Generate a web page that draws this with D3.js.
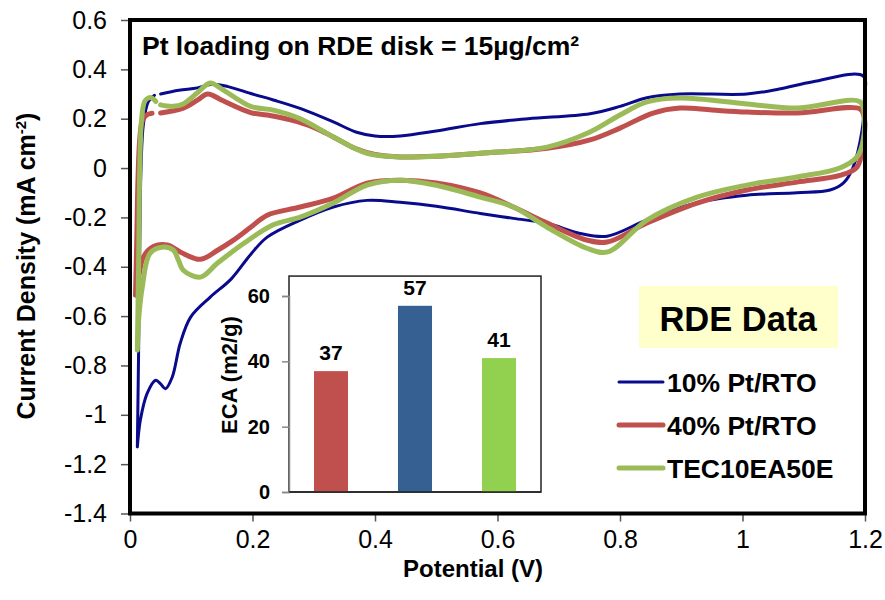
<!DOCTYPE html>
<html>
<head>
<meta charset="utf-8">
<script src="https://cdn.jsdelivr.net/npm/d3@7"></script>
<style>
  body { margin: 0; background: #fff; }
  text { font-family: "Liberation Sans", Arial, sans-serif; }
</style>
</head>
<body>
<div id="container"></div>
<script>
// CV curves, [potential V, current density mA/cm2]; null = break in the trace
var pt10 = [
  [0.012,-1.13],[0.014,-0.75],[0.016,-0.3],[0.018,0.0],[0.022,0.18],[0.030,0.27],[0.040,0.295], null,
  [0.050,0.30],[0.080,0.315],[0.110,0.325],[0.135,0.34],[0.160,0.33],[0.200,0.30],[0.234,0.276],
  [0.280,0.24],[0.332,0.187],[0.370,0.145],[0.400,0.13],[0.441,0.13],[0.500,0.15],[0.572,0.18],
  [0.650,0.20],[0.751,0.22],[0.800,0.25],[0.844,0.285],[0.898,0.30],[1.007,0.30],[1.060,0.32],
  [1.115,0.35],[1.197,0.373],[1.199,0.28],[1.195,0.15],[1.180,0.0],[1.165,-0.06],[1.143,-0.089],
  [1.089,-0.10],[1.007,-0.11],[0.926,-0.14],[0.844,-0.21],[0.779,-0.276],[0.735,-0.265],
  [0.681,-0.224],[0.626,-0.204],[0.572,-0.184],[0.500,-0.155],[0.441,-0.139],[0.387,-0.131],
  [0.332,-0.158],[0.278,-0.211],[0.224,-0.28],[0.197,-0.35],[0.165,-0.45],[0.131,-0.523],
  [0.099,-0.604],[0.082,-0.71],[0.069,-0.847],[0.058,-0.894],[0.050,-0.875],[0.042,-0.86],
  [0.028,-0.913],[0.017,-1.02],[0.012,-1.13]
];
var pt40 = [
  [0.009,-0.515],[0.011,-0.3],[0.013,-0.05],[0.016,0.12],[0.020,0.19],[0.027,0.215],[0.036,0.222], null,
  [0.050,0.223],[0.087,0.243],[0.110,0.275],[0.127,0.30],[0.150,0.275],[0.197,0.225],[0.224,0.215],
  [0.262,0.195],[0.300,0.165],[0.332,0.126],[0.367,0.08],[0.400,0.055],[0.441,0.045],[0.500,0.048],
  [0.572,0.06],[0.681,0.08],[0.751,0.114],[0.800,0.162],[0.854,0.223],[0.898,0.243],[0.950,0.235],
  [1.007,0.227],[1.089,0.223],[1.192,0.239],[1.199,0.2],[1.197,0.1],[1.187,0.004],[1.159,-0.03],
  [1.089,-0.057],[1.007,-0.089],[0.926,-0.142],[0.844,-0.223],[0.779,-0.30],[0.746,-0.292],
  [0.681,-0.223],[0.626,-0.158],[0.572,-0.101],[0.500,-0.06],[0.441,-0.049],[0.387,-0.061],
  [0.332,-0.122],[0.278,-0.158],[0.224,-0.191],[0.197,-0.24],[0.169,-0.292],[0.143,-0.333],
  [0.115,-0.37],[0.082,-0.34],[0.061,-0.312],[0.039,-0.317],[0.022,-0.36],[0.012,-0.48],[0.009,-0.515]
];
var tec = [
  [0.012,-0.738],[0.014,-0.4],[0.016,0.0],[0.019,0.2],[0.024,0.27],[0.030,0.284],[0.036,0.284],[0.042,0.27], null,
  [0.050,0.256],[0.070,0.25],[0.087,0.26],[0.110,0.305],[0.131,0.345],[0.150,0.32],[0.197,0.25],
  [0.234,0.235],[0.278,0.20],[0.332,0.126],[0.387,0.06],[0.441,0.045],[0.500,0.048],[0.572,0.06],
  [0.681,0.085],[0.751,0.146],[0.800,0.215],[0.844,0.268],[0.898,0.284],[1.007,0.26],[1.089,0.243],
  [1.192,0.268],[1.199,0.2],[1.196,0.1],[1.187,0.045],[1.159,0.0],[1.089,-0.036],[1.007,-0.069],
  [0.926,-0.118],[0.844,-0.211],[0.780,-0.34],[0.746,-0.325],[0.681,-0.24],[0.626,-0.158],
  [0.572,-0.118],[0.500,-0.07],[0.441,-0.049],[0.387,-0.069],[0.332,-0.142],[0.278,-0.199],
  [0.234,-0.23],[0.186,-0.305],[0.143,-0.385],[0.115,-0.442],[0.087,-0.414],[0.079,-0.373],
  [0.071,-0.333],[0.055,-0.32],[0.033,-0.345],[0.020,-0.483],[0.014,-0.617],[0.012,-0.738]
];

var seriesNames = ["10% Pt/RTO", "40% Pt/RTO", "TEC10EA50E"];
var seriesColors = ["#0a0a8c", "#c0504d", "#9bbb59"];
var seriesWidths = [3, 5, 5];

var xTicks = [0, 0.2, 0.4, 0.6, 0.8, 1, 1.2];
var yTicks = [0.6, 0.4, 0.2, 0, -0.2, -0.4, -0.6, -0.8, -1, -1.2, -1.4];

// inset bar chart (ECA)
var ecaNames = ["40% Pt/RTO", "10% Pt/RTO", "TEC10EA50E"];
var ecaValues = [37, 57, 41];
var ecaColors = ["#c0504d", "#366092", "#92d050"];
var ecaTicks = [0, 20, 40, 60];

var w = 885, h = 600;

var svg = d3.select("#container").append("svg")
  .attr("width", w)
  .attr("height", h);

var x = d3.scaleLinear().domain([0, 1.2]).range([130, 865]);
var y = d3.scaleLinear().domain([-1.4, 0.6]).range([513.5, 20]);

var line = d3.line()
  .defined(d => d !== null)
  .x(d => x(d[0]))
  .y(d => y(d[1]))
  .curve(d3.curveCatmullRom.alpha(0.5));

[pt10, pt40, tec].forEach(function (data, i) {
  svg.append("path")
    .datum(data)
    .attr("fill", "none")
    .attr("stroke", seriesColors[i])
    .attr("stroke-width", seriesWidths[i])
    .attr("stroke-linejoin", "round")
    .attr("stroke-linecap", "round")
    .attr("d", line);
});

// axes
var yAxis = svg.append("g")
  .attr("transform", "translate(130,0)")
  .call(d3.axisLeft(y).tickValues(yTicks).tickSize(9).tickPadding(14)
    .tickFormat(d => String(+d.toFixed(1))));
var xAxis = svg.append("g")
  .attr("transform", "translate(0,513.5)")
  .call(d3.axisBottom(x).tickValues(xTicks).tickSize(8).tickPadding(9)
    .tickFormat(d => String(+d.toFixed(1))));

[yAxis, xAxis].forEach(function (g) {
  g.select(".domain").remove();
  g.selectAll(".tick line").attr("stroke", "#555").attr("stroke-width", 1.5);
  g.selectAll(".tick text")
    .attr("fill", "#000")
    .style("font-family", "'Liberation Sans', Arial, sans-serif")
    .style("font-size", "25px");
});

svg.append("rect")
  .attr("x", x(0)).attr("y", y(0.6))
  .attr("width", x(1.2) - x(0)).attr("height", y(-1.4) - y(0.6))
  .attr("fill", "none").attr("stroke", "#000").attr("stroke-width", 4);

// axis titles
svg.append("text")
  .attr("x", 473).attr("y", 577)
  .attr("text-anchor", "middle")
  .style("font-size", "24px").style("font-weight", "bold")
  .text("Potential (V)");

var yl = svg.append("text")
  .attr("transform", "translate(35,266) rotate(-90)")
  .attr("text-anchor", "middle")
  .style("font-size", "25px").style("font-weight", "bold");
yl.append("tspan").text("Current Density (mA cm");
yl.append("tspan").attr("dy", -9).style("font-size", "15px").text("-2");
yl.append("tspan").attr("dy", 9).text(")");

svg.append("text")
  .attr("x", 142).attr("y", 55)
  .style("font-size", "26.5px").style("font-weight", "bold")
  .text("Pt loading on RDE disk = 15µg/cm²");

// RDE Data box
svg.append("rect")
  .attr("x", 639).attr("y", 286).attr("width", 199).attr("height", 62)
  .attr("fill", "#ffffcc");
svg.append("text")
  .attr("x", 738).attr("y", 331)
  .attr("text-anchor", "middle")
  .style("font-size", "34.5px").style("font-weight", "bold")
  .text("RDE Data");

// legend
var legend = svg.append("g");
seriesNames.forEach(function (name, i) {
  var ly = 382 + i * 43;
  legend.append("line")
    .attr("x1", 619).attr("x2", 663).attr("y1", ly).attr("y2", ly)
    .attr("stroke", seriesColors[i]).attr("stroke-width", seriesWidths[i])
    .attr("stroke-linecap", "round");
  legend.append("text")
    .attr("x", 667).attr("y", ly + 10)
    .style("font-size", "26.5px").style("font-weight", "bold")
    .text(name);
});

// inset
var ey = d3.scaleLinear().domain([0, 60]).range([492, 296]);
var ex = d3.scaleBand().domain(ecaNames).range([289, 541])
  .paddingInner(0.595).paddingOuter(0.2975);

var inset = svg.append("g");
inset.append("rect")
  .attr("x", 289).attr("y", ey(66.1))
  .attr("width", 252).attr("height", ey(0) - ey(66.1))
  .attr("fill", "#fff").attr("stroke", "#222").attr("stroke-width", 1.5);

inset.selectAll(".bar")
  .data(ecaValues)
  .enter().append("rect")
  .attr("x", (d, i) => ex(ecaNames[i]))
  .attr("width", ex.bandwidth())
  .attr("y", d => ey(d))
  .attr("height", d => ey(0) - ey(d))
  .attr("fill", (d, i) => ecaColors[i]);

inset.selectAll(".val")
  .data(ecaValues)
  .enter().append("text")
  .attr("x", (d, i) => ex(ecaNames[i]) + ex.bandwidth() / 2)
  .attr("y", d => ey(d) - 11)
  .attr("text-anchor", "middle")
  .style("font-size", "21px").style("font-weight", "bold")
  .text(d => d);

var ea = inset.append("g")
  .attr("transform", "translate(289,0)")
  .call(d3.axisLeft(ey).tickValues(ecaTicks).tickSize(7).tickPadding(12));
ea.select(".domain").attr("stroke", "#888").attr("stroke-width", 1.5);
ea.selectAll(".tick line").attr("stroke", "#888").attr("stroke-width", 1.5);
ea.selectAll(".tick text")
  .attr("fill", "#000")
  .style("font-family", "'Liberation Sans', Arial, sans-serif")
  .style("font-size", "20px").style("font-weight", "bold");

inset.append("line")
  .attr("x1", 289).attr("x2", 541).attr("y1", ey(0)).attr("y2", ey(0))
  .attr("stroke", "#222").attr("stroke-width", 1.5);

inset.append("text")
  .attr("transform", "translate(237,375) rotate(-90)")
  .attr("text-anchor", "middle")
  .style("font-size", "22px").style("font-weight", "bold")
  .text("ECA (m2/g)");
</script>
</body>
</html>
